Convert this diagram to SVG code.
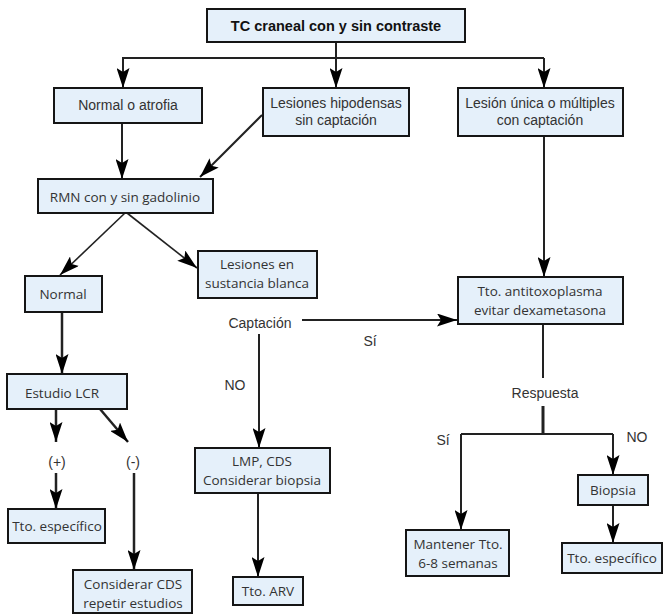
<svg xmlns="http://www.w3.org/2000/svg" width="663" height="614" viewBox="0 0 663 614">
<style>
.box{fill:#e5f0fa;stroke:#151515;stroke-width:2}
.t{font-family:"Liberation Sans",Arial,sans-serif;font-size:14px;fill:#333;text-anchor:middle}
.h{font-family:"Liberation Sans",Arial,sans-serif;font-size:14.5px;font-weight:bold;fill:#111;text-anchor:middle}
.o{font-family:"Open Sans","Noto Sans",sans-serif;font-size:13.5px;fill:#333;text-anchor:middle}
.l{font-family:"Liberation Sans",Arial,sans-serif;font-size:14px;fill:#333;text-anchor:middle}
.c{fill:none;stroke:#222;stroke-width:2}
.a{marker-end:url(#arr)}
</style>
<defs>
<marker id="arr" markerUnits="userSpaceOnUse" viewBox="0 0 20 13" refX="20" refY="6.5" markerWidth="20" markerHeight="13" orient="auto">
<path d="M0,0 L20,6.5 L0,13 L4,6.5 Z" fill="#000"/>
</marker>
</defs>
<g id="connectors">
<path class="c" d="M336,42 V58 M122,58 H544"/>
<path class="c a" d="M123,58 V88"/>
<path class="c a" d="M336,58 V88"/>
<path class="c a" d="M544,58 V88"/>
<path class="c a" d="M122,123 V179"/>
<path class="c a" d="M262,115 L200,177"/>
<path class="c a" style="stroke-width:1.6" d="M125,213 L60,275"/>
<path class="c a" style="stroke-width:1.6" d="M127,213 L197,268"/>
<path class="c a" d="M544,136 V277"/>
<path class="c a" style="stroke-width:2.5" d="M62,312 V374"/>
<path class="c a" style="stroke-width:2.5" d="M56,409 V442"/>
<path class="c a" style="stroke-width:2.5" d="M100,409 L128,442"/>
<path class="c a" style="stroke-width:2.5" d="M56,473 V509"/>
<path class="c a" style="stroke-width:2.5" d="M134,473 V570"/>
<path class="c a" d="M302,320 H457"/>
<path class="c a" d="M259,334 V448"/>
<path class="c a" d="M258,493 V577"/>
<path class="c" d="M543,324 V378"/>
<path class="c" style="stroke-width:3" d="M543,406 V434"/>
<path class="c" d="M461,434 H613"/>
<path class="c a" d="M461,434 V530"/>
<path class="c a" d="M613,434 V475"/>
<path class="c a" d="M613,505 V543"/>
</g>
<g id="labels">
<text class="l" x="260" y="328">Captación</text>
<text class="l" x="235" y="390">NO</text>
<text class="l" x="370" y="346">Sí</text>
<text class="l" x="545" y="398">Respuesta</text>
<text class="l" x="443" y="445">Sí</text>
<text class="l" x="637" y="442">NO</text>
<text class="l" x="57" y="467">(+)</text>
<text class="l" x="133" y="467">(-)</text>
</g>
<g id="n_top"><rect class="box" x="207" y="9" width="258" height="33"/><text class="h" x="336" y="31">TC craneal con y sin contraste</text></g>
<g id="n_normal_atrofia"><rect class="box" x="54" y="88" width="148" height="35"/><text class="t" x="128" y="110">Normal o atrofia</text></g>
<g id="n_lesiones_hipo"><rect class="box" x="263" y="88" width="146" height="48"/><text class="t" x="336" y="108">Lesiones hipodensas</text><text class="t" x="336" y="125">sin captación</text></g>
<g id="n_lesion_unica"><rect class="box" x="458" y="88" width="165" height="48"/><text class="t" x="540" y="108">Lesión única o múltiples</text><text class="t" x="540" y="125">con captación</text></g>
<g id="n_rmn"><rect class="box" x="38" y="179" width="175" height="34"/><text class="o" x="125" y="202">RMN con y sin gadolinio</text></g>
<g id="n_normal"><rect class="box" x="25" y="276" width="77" height="36"/><text class="o" x="63" y="299">Normal</text></g>
<g id="n_lesiones_sb"><rect class="box" x="198" y="251" width="119" height="47"/><text class="o" x="257" y="269">Lesiones en</text><text class="o" x="257" y="288">sustancia blanca</text></g>
<g id="n_antitoxo"><rect class="box" x="458" y="277" width="165" height="47"/><text class="o" x="540" y="296">Tto. antitoxoplasma</text><text class="o" x="540" y="315">evitar dexametasona</text></g>
<g id="n_lcr"><rect class="box" x="7" y="374" width="120" height="35"/><text class="o" x="62" y="398">Estudio LCR</text></g>
<g id="n_lmp"><rect class="box" x="195" y="448" width="135" height="45"/><text class="o" x="262" y="466">LMP, CDS</text><text class="o" x="262" y="485">Considerar biopsia</text></g>
<g id="n_tto_esp1"><rect class="box" x="8" y="509" width="97" height="34"/><text class="o" x="57" y="531">Tto. específico</text></g>
<g id="n_considerar"><rect class="box" x="73" y="570" width="119" height="43"/><text class="o" x="133" y="589">Considerar CDS</text><text class="o" x="133" y="608">repetir estudios</text></g>
<g id="n_arv"><rect class="box" x="233" y="577" width="70" height="28"/><text class="o" x="268" y="596">Tto. ARV</text></g>
<g id="n_mantener"><rect class="box" x="406" y="530" width="103" height="46"/><text class="o" x="458" y="549">Mantener Tto.</text><text class="o" x="458" y="568">6-8 semanas</text></g>
<g id="n_biopsia"><rect class="box" x="578" y="475" width="70" height="30"/><text class="o" x="613" y="495">Biopsia</text></g>
<g id="n_tto_esp2"><rect class="box" x="562" y="543" width="100" height="30"/><text class="o" x="612" y="563">Tto. específico</text></g>
</svg>
